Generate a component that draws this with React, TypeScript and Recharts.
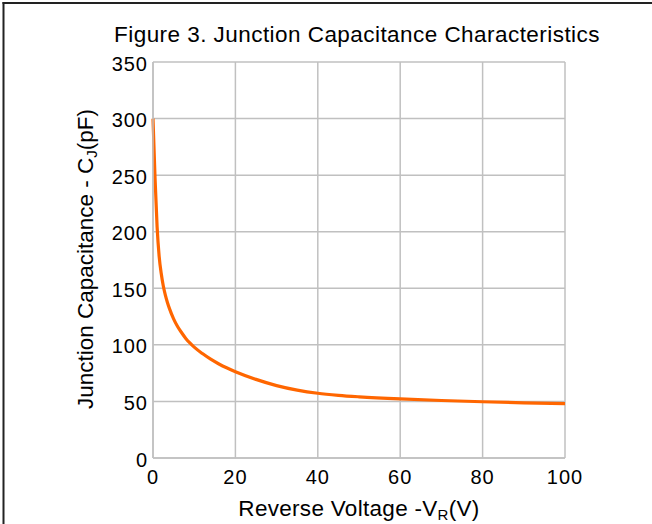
import { LineChart, Line, XAxis, YAxis, CartesianGrid } from "recharts";

// reverse voltage (V) and junction capacitance (pF)
const voltage = [0, 0.5, 1, 1.5, 2, 2.5, 3, 3.5, 4, 5, 6, 7, 8, 9, 10, 12, 14, 16, 18, 20, 25, 30, 35, 40, 45, 50, 60, 70, 80, 90, 100];
const capacitance = [300, 247, 204, 178, 163, 152, 144, 137.5, 132, 123, 116, 110.5, 105.5, 101.5, 98, 92.3, 87.3, 83.1, 79.5, 76.3, 69.5, 64, 60, 57.2, 55.4, 54.1, 52.2, 50.8, 49.7, 48.8, 48.1];

const xTicks = [0, 20, 40, 60, 80, 100];
const yTicks = [0, 50, 100, 150, 200, 250, 300, 350];

const title = "Figure 3. Junction Capacitance Characteristics";

const data = voltage.map((v, i) => ({ v, c: capacitance[i] }));

const font = "'Liberation Sans', Arial, sans-serif";
const gridColor = "#c0c0c0";

export default function App() {
  return (
    <div style={{ position: "absolute", left: 0, top: 0, width: 652, height: 524, background: "#fff" }}>
      <LineChart
        width={652}
        height={524}
        data={data}
        margin={{ top: 62, right: 87, bottom: 0, left: 0 }}
        style={{ fontFamily: font }}
      >
        <CartesianGrid stroke={gridColor} strokeWidth={1.5} />
        <XAxis
          dataKey="v"
          type="number"
          domain={[0, 100]}
          ticks={xTicks}
          height={66}
          tickLine={false}
          tickSize={6}
          tickMargin={6}
          axisLine={{ stroke: gridColor, strokeWidth: 1.5 }}
          tick={{ fontSize: 20, fill: "#000", letterSpacing: 1 }}
        />
        <YAxis
          type="number"
          domain={[0, 350]}
          ticks={yTicks}
          width={153}
          tickLine={false}
          tickSize={5}
          tickMargin={0}
          axisLine={{ stroke: gridColor, strokeWidth: 1.5 }}
          tick={{ fontSize: 20, fill: "#000", dy: 1.5, letterSpacing: 1 }}
        />
        <Line
          dataKey="c"
          type="monotone"
          stroke="#ff6600"
          strokeWidth={3.2}
          dot={false}
          isAnimationActive={false}
        />
        <line x1={3.5} y1={2} x2={3.5} y2={524} stroke="#222" strokeWidth={2} />
        <line x1={2.5} y1={3} x2={652} y2={3} stroke="#222" strokeWidth={2} />
        <text x={357} y={42} textAnchor="middle" fontSize={22.5} letterSpacing={0.45} fill="#000" fontFamily={font}>
          {title}
        </text>
        <text x={359} y={516} textAnchor="middle" fontSize={22.5} letterSpacing={0.3} fill="#000" fontFamily={font}>
          Reverse Voltage -V
          <tspan fontSize={15} dy={4}>R</tspan>
          <tspan dy={-4}>(V)</tspan>
        </text>
        <text transform="translate(93, 259) rotate(-90)" textAnchor="middle" fontSize={22.5} fill="#000" fontFamily={font}>
          Junction Capacitance - C
          <tspan fontSize={15} dy={4}>J</tspan>
          <tspan dy={-4}>(pF)</tspan>
        </text>
      </LineChart>
    </div>
  );
}
